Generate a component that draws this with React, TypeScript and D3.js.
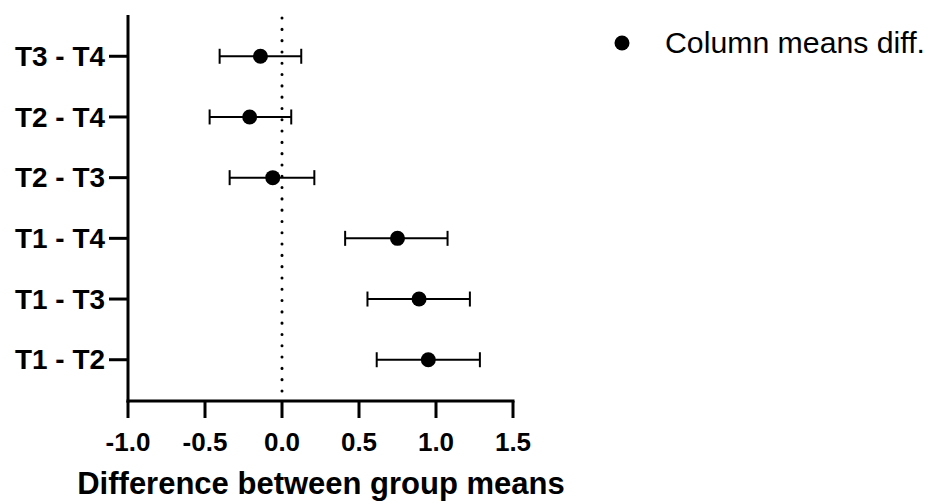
import * as d3 from 'd3'

const comparisons = ['T1 - T2', 'T1 - T3', 'T1 - T4', 'T2 - T3', 'T2 - T4', 'T3 - T4']
const meanDiff = [0.95, 0.89, 0.75, -0.06, -0.21, -0.14]
const ciLow = [0.615, 0.555, 0.41, -0.34, -0.47, -0.405]
const ciHigh = [1.285, 1.22, 1.075, 0.21, 0.06, 0.125]
const xTicks = [-1.0, -0.5, 0.0, 0.5, 1.0, 1.5]

const W = 935
const H = 504
const font = '"Liberation Sans", Arial, sans-serif'

export default function App() {
  const x = d3.scaleLinear().domain([-1, 1.5]).range([128, 513])
  const y = d3.scalePoint<string>().domain(comparisons).range([401, 15]).padding(0.68)
  // prism style labels use a plain hyphen, not the unicode minus
  const fmt = (v: number) => d3.format('.1f')(v).replace('\u2212', '-')
  const capH = 7.5

  return (
    <svg width={W} height={H} style={{ position: 'absolute', left: 0, top: 0, background: '#fff' }}>
      {/* zero reference line */}
      <line x1={x(0)} x2={x(0)} y1={18} y2={400} stroke="#000" strokeWidth={3}
        strokeDasharray="0.1 11.2" strokeLinecap="round" />

      {/* y axis */}
      <line x1={x(-1)} x2={x(-1)} y1={15} y2={402.5} stroke="#000" strokeWidth={3} />
      {comparisons.map(c => (
        <g key={c}>
          <line x1={109} x2={x(-1)} y1={y(c)} y2={y(c)} stroke="#000" strokeWidth={3} />
          <text x={15} y={y(c)} dy="0.36em" fontFamily={font} fontWeight="bold" fontSize={27}
            textLength={90} lengthAdjust="spacingAndGlyphs">{c}</text>
        </g>
      ))}

      {/* x axis */}
      <line x1={x(-1) - 1.5} x2={x(1.5) + 1.5} y1={401} y2={401} stroke="#000" strokeWidth={3} />
      {xTicks.map(t => (
        <g key={t}>
          <line x1={x(t)} x2={x(t)} y1={401} y2={418} stroke="#000" strokeWidth={3} />
          <text x={x(t)} y={451} textAnchor="middle" fontFamily={font}
            fontWeight="bold" fontSize={26}>{fmt(t)}</text>
        </g>
      ))}
      <text x={321} y={494} textAnchor="middle" fontFamily={font} fontWeight="bold" fontSize={31}>
        Difference between group means
      </text>

      {/* error bars and means */}
      {comparisons.map((c, i) => {
        const cy = y(c) as number
        return (
          <g key={'pt' + c}>
            <line x1={x(ciLow[i])} x2={x(ciHigh[i])} y1={cy} y2={cy} stroke="#000" strokeWidth={2} />
            <line x1={x(ciLow[i])} x2={x(ciLow[i])} y1={cy - capH} y2={cy + capH} stroke="#000" strokeWidth={2} />
            <line x1={x(ciHigh[i])} x2={x(ciHigh[i])} y1={cy - capH} y2={cy + capH} stroke="#000" strokeWidth={2} />
            <circle cx={x(meanDiff[i])} cy={cy} r={7.5} fill="#000" />
          </g>
        )
      })}

      {/* legend */}
      <circle cx={622} cy={43} r={7.5} fill="#000" />
      <text x={665} y={53} fontFamily={font} fontSize={29}
        textLength={260} lengthAdjust="spacingAndGlyphs">Column means diff.</text>
    </svg>
  )
}
